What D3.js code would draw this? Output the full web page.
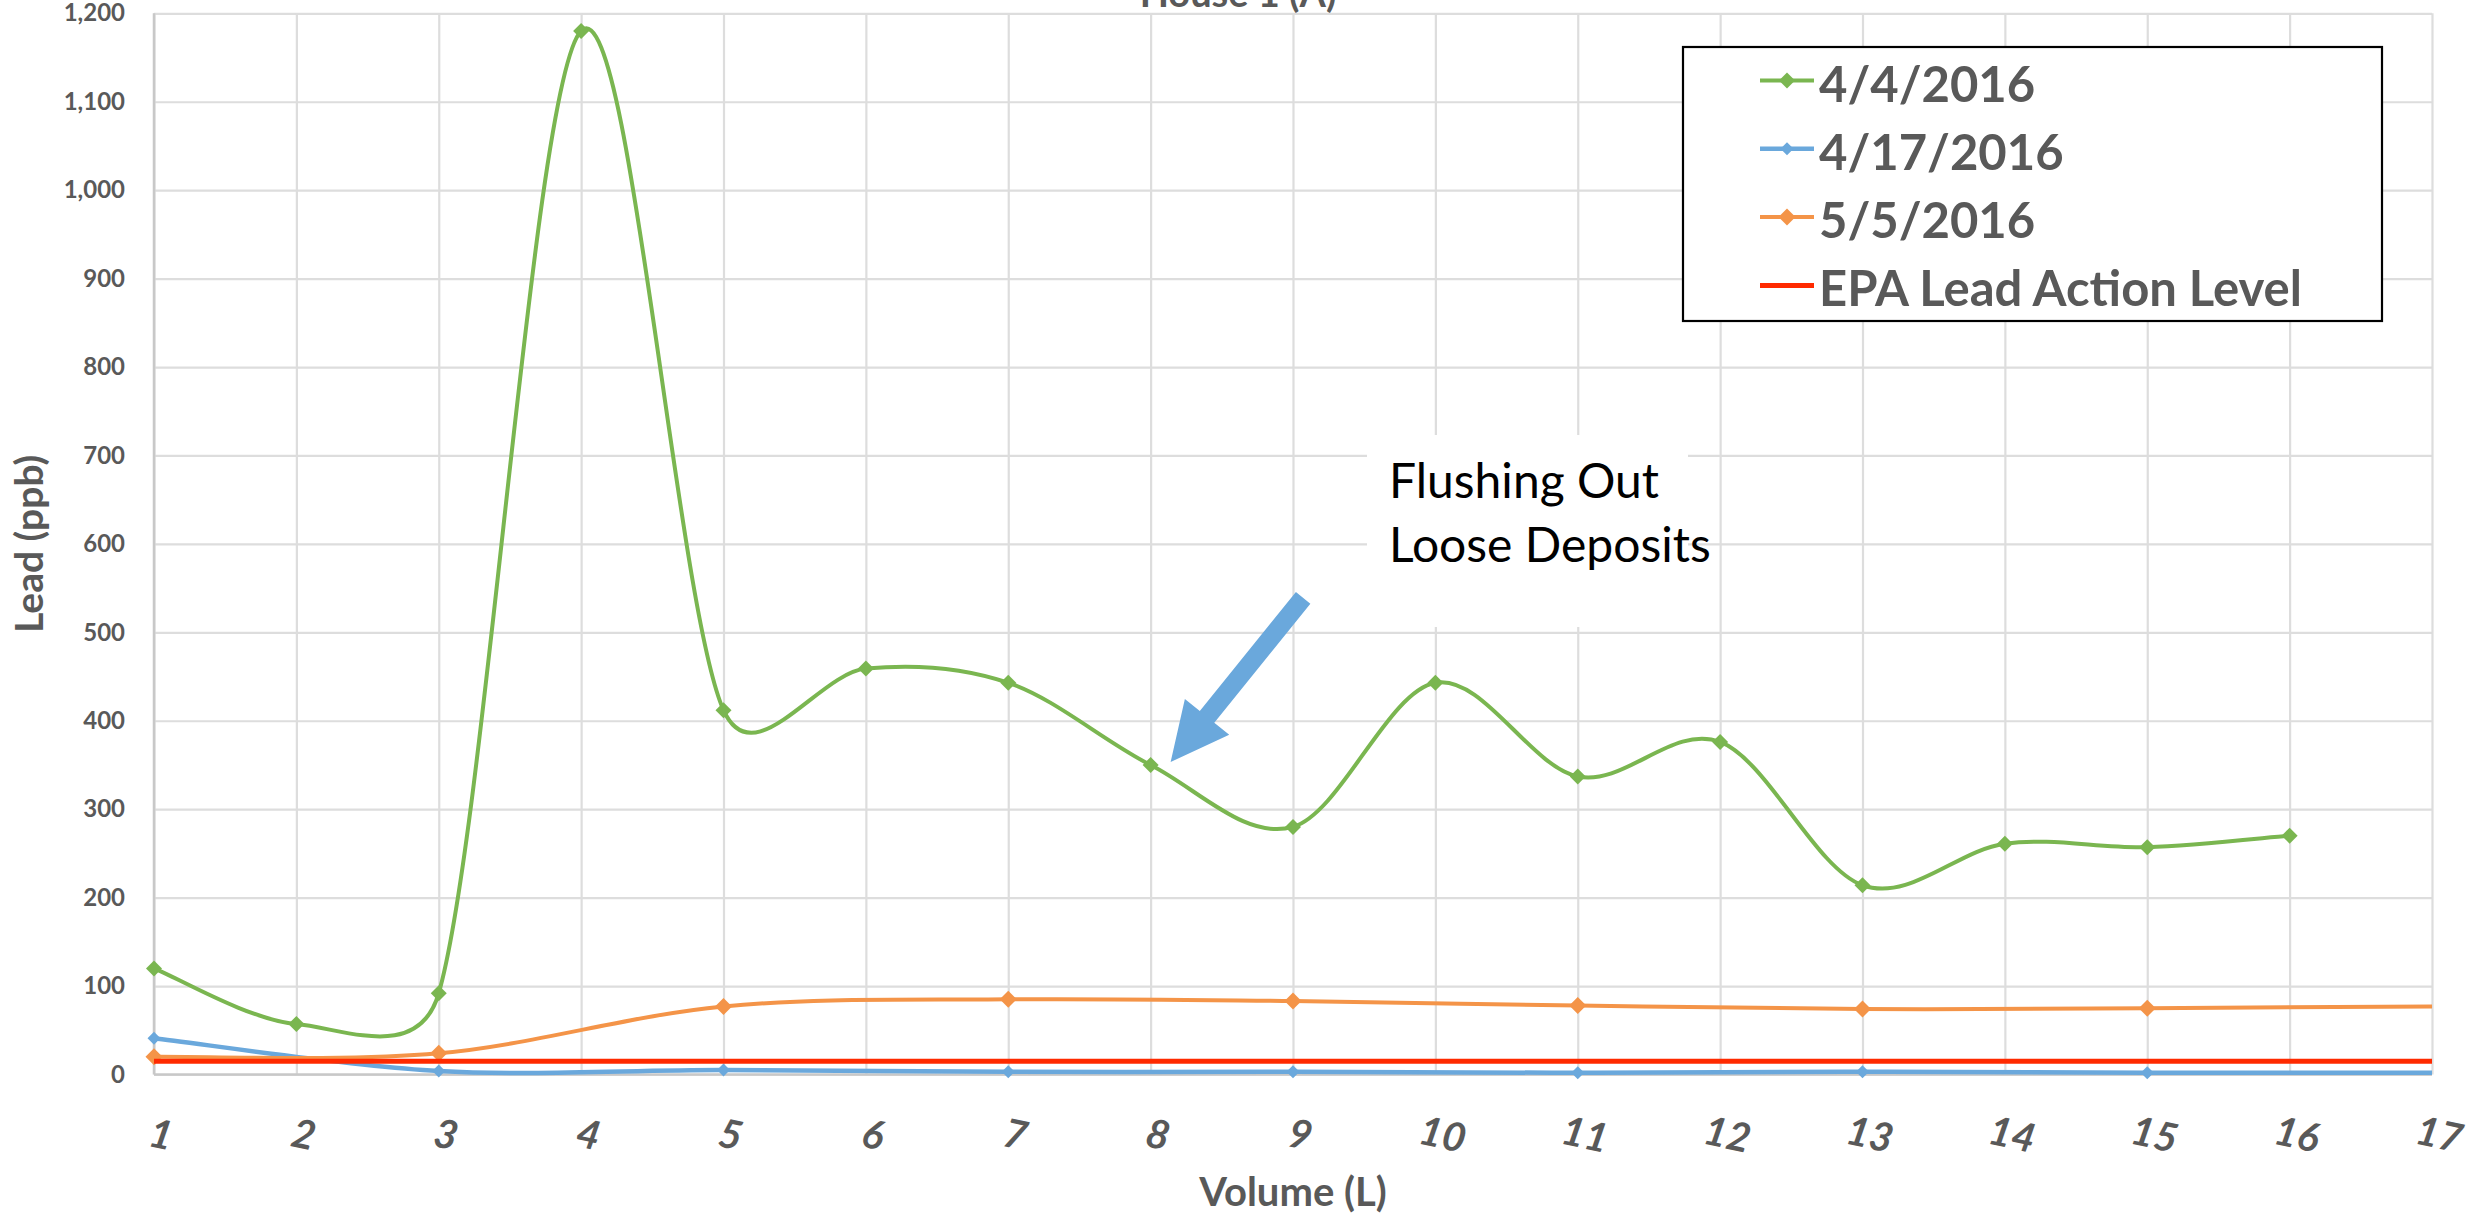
<!DOCTYPE html>
<html>
<head>
<meta charset="utf-8">
<title>House 1 (A)</title>
<script src="https://cdn.jsdelivr.net/npm/d3@7"></script>
<style>
  body { margin: 0; background: #fff; }
  svg { display: block; }
  text { font-family: Lato, "Open Sans", "DejaVu Sans", sans-serif; }
</style>
</head>
<body>
<svg id="chart" width="2491" height="1214"></svg>
<script>
// ---- data -------------------------------------------------------------
const seriesNames = ["4/4/2016", "4/17/2016", "5/5/2016", "EPA Lead Action Level"];

// 4/4/2016: one sample per litre
const volumeApr4 = [1, 2, 3, 4, 5, 6, 7, 8, 9, 10, 11, 12, 13, 14, 15, 16];
const leadApr4   = [120, 57, 92, 1180, 412, 459, 443, 350, 280, 443, 337, 376, 214, 261, 257, 270];

// 4/17/2016 and 5/5/2016: every other litre
const volumeLater = [1, 3, 5, 7, 9, 11, 13, 15, 17];
const leadApr17   = [41, 4, 5, 3, 3, 2, 3, 2, 2];
const leadMay5    = [20, 24, 77, 85, 83, 78, 74, 75, 77];

// EPA action level for lead (ppb)
const epaVolume = [1, 17];
const epaLevel  = [15, 15];

const xTickValues = [1, 2, 3, 4, 5, 6, 7, 8, 9, 10, 11, 12, 13, 14, 15, 16, 17];
const yTickValues = [0, 100, 200, 300, 400, 500, 600, 700, 800, 900, 1000, 1100, 1200];

const annotationLines = ["Flushing Out", "Loose Deposits"];

// ---- styling ----------------------------------------------------------
const colors = { green: "#7AB650", blue: "#6AA8DC", orange: "#F49448", red: "#FF2A00" };
const textGrey = "#595959";

const svg = d3.select("#chart");
const plot = { left: 154, right: 2432, top: 13.3, bottom: 1074.5 };

const x = d3.scaleLinear().domain([1, 17]).range([plot.left, plot.right]);
const y = d3.scaleLinear().domain([0, 1200]).range([plot.bottom, plot.top]);

// Smoothed line in the style of spreadsheet "smoothed lines":
// cubic Bezier segments with 1/6 tangents, limited to half the segment length.
function SmoothCurve(context) { this._context = context; }
SmoothCurve.prototype = {
  areaStart() {}, areaEnd() {},
  lineStart() { this._xs = []; this._ys = []; },
  point(px, py) { this._xs.push(+px); this._ys.push(+py); },
  lineEnd() {
    const xs = this._xs, ys = this._ys, n = xs.length, c = this._context;
    if (!n) return;
    c.moveTo(xs[0], ys[0]);
    if (n === 1) return;
    for (let i = 0; i < n - 1; i++) {
      const i0 = Math.max(i - 1, 0), i3 = Math.min(i + 2, n - 1);
      const d12 = Math.hypot(xs[i + 1] - xs[i], ys[i + 1] - ys[i]);
      const d02 = Math.hypot(xs[i + 1] - xs[i0], ys[i + 1] - ys[i0]);
      const d13 = Math.hypot(xs[i3] - xs[i], ys[i3] - ys[i]);
      const f1 = d02 / 6 < d12 / 2 ? 1 / 6 : d12 / (2 * d02);
      const f2 = d13 / 6 < d12 / 2 ? 1 / 6 : d12 / (2 * d13);
      c.bezierCurveTo(
        xs[i] + f1 * (xs[i + 1] - xs[i0]), ys[i] + f1 * (ys[i + 1] - ys[i0]),
        xs[i + 1] - f2 * (xs[i3] - xs[i]), ys[i + 1] - f2 * (ys[i3] - ys[i]),
        xs[i + 1], ys[i + 1]);
    }
  }
};
const curveSmooth = ctx => new SmoothCurve(ctx);

// ---- gridlines & axes -------------------------------------------------
const plotW = plot.right - plot.left, plotH = plot.bottom - plot.top;

const yAxis = svg.append("g")
  .attr("transform", `translate(${plot.left},0)`)
  .call(d3.axisLeft(y).tickValues(yTickValues).tickSize(-plotW).tickPadding(29)
    .tickFormat(d3.format(",")));
yAxis.select(".domain").remove();
yAxis.selectAll(".tick line").attr("stroke", "#DDDDDD").attr("stroke-width", 2.2);
yAxis.selectAll(".tick text")
  .attr("fill", textGrey).attr("font-size", 24).attr("font-weight", 700);

const xAxis = svg.append("g")
  .attr("transform", `translate(0,${plot.bottom})`)
  .call(d3.axisBottom(x).tickValues(xTickValues).tickSize(-plotH).tickFormat(d3.format("d")));
xAxis.select(".domain").remove();
xAxis.selectAll(".tick line").attr("stroke", "#DDDDDD").attr("stroke-width", 2.2);
xAxis.selectAll(".tick text")
  .attr("y", null).attr("dy", null)
  .attr("transform", "translate(7,59) rotate(12)")
  .attr("dominant-baseline", "central")
  .attr("text-anchor", "middle")
  .attr("fill", textGrey).attr("font-size", 40).attr("font-weight", 700)
  .attr("font-style", "italic");

// axis lines (left and bottom)
svg.append("line")
  .attr("x1", x(1)).attr("x2", x(1)).attr("y1", y(1200)).attr("y2", y(0))
  .attr("stroke", "#C8C8C8").attr("stroke-width", 2.5);
svg.append("line")
  .attr("x1", x(1)).attr("x2", x(17)).attr("y1", y(0)).attr("y2", y(0))
  .attr("stroke", "#C8C8C8").attr("stroke-width", 2.5);

// ---- titles -----------------------------------------------------------
svg.append("text")
  .attr("x", 1238).attr("y", 7).attr("text-anchor", "middle")
  .attr("fill", textGrey).attr("font-size", 38).attr("font-weight", 700)
  .text("House 1 (A)");

svg.append("text")
  .attr("x", (plot.left + plot.right) / 2).attr("y", 1206).attr("text-anchor", "middle")
  .attr("fill", textGrey).attr("font-size", 40).attr("font-weight", 700)
  .text("Volume (L)");

svg.append("text")
  .attr("transform", `translate(43,${(plot.top + plot.bottom) / 2}) rotate(-90)`)
  .attr("text-anchor", "middle")
  .attr("fill", textGrey).attr("font-size", 39).attr("font-weight", 700)
  .text("Lead (ppb)");

// ---- annotation -------------------------------------------------------
svg.append("rect")
  .attr("x", 1367).attr("y", 435).attr("width", 321).attr("height", 192)
  .attr("fill", "#fff");
svg.append("g").selectAll("text").data(annotationLines).join("text")
  .attr("x", 1389).attr("y", (d, i) => 498 + i * 64)
  .attr("fill", "#000").attr("font-size", 48)
  .text(d => d);

// arrow pointing at the 8 L sample of 4/4/2016
(function drawArrow() {
  const tip = [x(8) + 20, y(leadApr4[7]) - 3];
  const ux = -0.628, uy = 0.778;          // direction tail -> tip
  const nx = uy, ny = -ux;                 // perpendicular
  const len = 211, headLen = 58, headHalf = 28.5, shaftHalf = 9.3;
  const base = [tip[0] - headLen * ux, tip[1] - headLen * uy];
  const tail = [tip[0] - len * ux, tip[1] - len * uy];
  const pts = [
    tip,
    [base[0] + headHalf * nx, base[1] + headHalf * ny],
    [base[0] + shaftHalf * nx, base[1] + shaftHalf * ny],
    [tail[0] + shaftHalf * nx, tail[1] + shaftHalf * ny],
    [tail[0] - shaftHalf * nx, tail[1] - shaftHalf * ny],
    [base[0] - shaftHalf * nx, base[1] - shaftHalf * ny],
    [base[0] - headHalf * nx, base[1] - headHalf * ny]
  ];
  svg.append("path").attr("d", d3.line()(pts) + "Z").attr("fill", colors.blue);
})();

// ---- series -----------------------------------------------------------
const series = [
  { name: seriesNames[0], xs: volumeApr4,  ys: leadApr4,  color: colors.green,  width: 4,   marker: 8,   smooth: true },
  { name: seriesNames[1], xs: volumeLater, ys: leadApr17, color: colors.blue,   width: 4.5, marker: 6.5, smooth: true },
  { name: seriesNames[2], xs: volumeLater, ys: leadMay5,  color: colors.orange, width: 4,   marker: 8.5, smooth: true },
  { name: seriesNames[3], xs: epaVolume,   ys: epaLevel,  color: colors.red,    width: 5,   marker: 0,   smooth: false }
];

const diamond = h => d3.symbol(d3.symbolSquare, 2 * h * h);

series.forEach(s => {
  const pts = s.xs.map((v, i) => ({ v, lead: s.ys[i] }));
  const line = d3.line().x(d => x(d.v)).y(d => y(d.lead))
    .curve(s.smooth ? curveSmooth : d3.curveLinear);
  svg.append("path").datum(pts)
    .attr("d", line).attr("fill", "none")
    .attr("stroke", s.color).attr("stroke-width", s.width)
    .attr("stroke-linejoin", "round");
  if (s.marker) {
    // samples on the plot's right edge are drawn without a marker
    svg.append("g").selectAll("path").data(pts.filter(d => d.v < 17)).join("path")
      .attr("d", diamond(s.marker))
      .attr("transform", d => `translate(${x(d.v)},${y(d.lead)}) rotate(45)`)
      .attr("fill", s.color);
  }
});

// ---- legend -----------------------------------------------------------
const legend = svg.append("g");
legend.append("rect")
  .attr("x", 1683).attr("y", 47).attr("width", 699).attr("height", 274)
  .attr("fill", "#fff").attr("stroke", "#000").attr("stroke-width", 2.2);

const rows = legend.selectAll("g.row").data(series).join("g")
  .attr("class", "row")
  .attr("transform", (d, i) => `translate(0,${101.5 + i * 68.3})`);
rows.append("line")
  .attr("x1", 1760).attr("x2", 1814).attr("y1", -21).attr("y2", -21)
  .attr("stroke", d => d.color).attr("stroke-width", d => d.width);
rows.filter(d => d.marker).append("path")
  .attr("d", d => diamond(d.marker)())
  .attr("transform", "translate(1787,-21) rotate(45)")
  .attr("fill", d => d.color);
rows.append("text")
  .attr("x", 1819).attr("y", 0)
  .attr("fill", textGrey).attr("font-size", 49).attr("font-weight", 700)
  .text(d => d.name);
</script>
</body>
</html>
